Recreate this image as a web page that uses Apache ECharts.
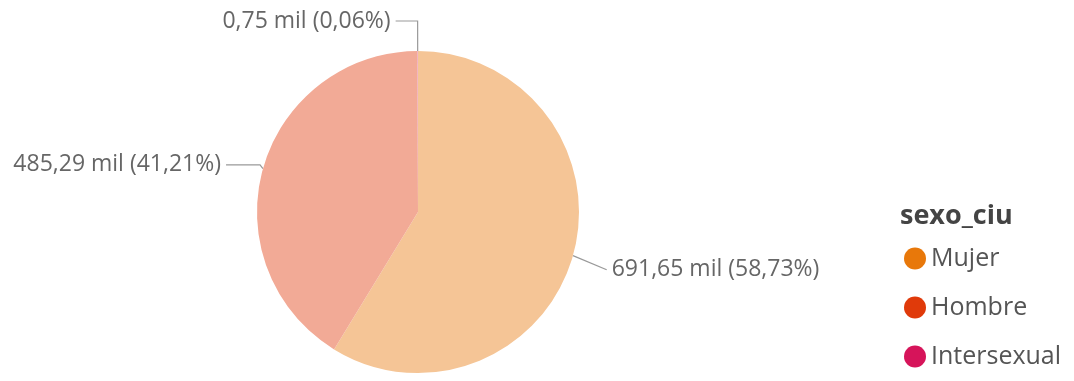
<!DOCTYPE html>
<html><head><meta charset="utf-8">
<script src="https://cdn.jsdelivr.net/npm/echarts@6/dist/echarts.min.js"></script>
<style>html,body{margin:0;padding:0;background:#fff}#c{width:1074px;height:381px}</style>
</head><body><div id="c"></div>
<script>
const categories = ["Mujer", "Hombre", "Intersexual"];
const values = [691.65, 485.29, 0.75];
const percents = ["58,73", "41,21", "0,06"];
const colors = ["#E8780A", "#E03A0A", "#D6145A"];
const legendTitle = "sexo_ciu";

const fmt = v => v.toFixed(2).replace('.', ',') + ' mil';
const fade = (hex, a) => {
  const n = parseInt(hex.slice(1), 16);
  const ch = [(n >> 16) & 255, (n >> 8) & 255, n & 255].map(c => Math.round(255 - a * (255 - c)));
  return 'rgb(' + ch.join(',') + ')';
};
const lineLen = [[8, 26], [3, 34], [26, 22]];
const labelShift = [12, -3, -4];

const chart = echarts.init(document.getElementById('c'));
chart.setOption({
  animation: false,
  title: {text: legendTitle, left: 895, top: 198,
    textStyle: {fontFamily: 'Open Sans', fontSize: 27, fontWeight: 'bold', color: '#444'}},
  legend: {
    orient: 'vertical', left: 899, top: 240, itemGap: 22, icon: 'circle',
    itemWidth: 22, itemHeight: 22,
    data: categories.map((c, i) => ({name: c, itemStyle: {color: colors[i]}})),
    textStyle: {fontFamily: 'Open Sans', fontSize: 25, color: '#555', lineHeight: 27}
  },
  series: [{
    type: 'pie', center: [418, 212], radius: 161, startAngle: 90, clockwise: true,
    avoidLabelOverlap: false,
    itemStyle: {borderWidth: 0},
    label: {fontFamily: 'Open Sans', fontSize: 23, color: '#666'},
    labelLine: {lineStyle: {color: '#999', width: 1.2}},
    labelLayout: p => {
      const d = labelShift[p.dataIndex];
      const r = {dy: d};
      if (p.labelLinePoints) {
        const pts = p.labelLinePoints;
        const out = [pts[0].slice()];
        if (p.dataIndex === 0) {
          out.push([pts[2][0], pts[2][1] + d]);
        } else {
          for (let k = 1; k < pts.length; k++) out.push([pts[k][0], pts[k][1] + d]);
        }
        r.labelLinePoints = out;
      }
      return r;
    },
    data: categories.map((c, i) => ({
      name: c, value: values[i], itemStyle: {color: fade(colors[i], 0.43)},
      label: {formatter: fmt(values[i]) + ' (' + percents[i] + '%)'},
      labelLine: {length: lineLen[i][0], length2: lineLen[i][1]}
    }))
  }]
});
</script></body></html>
